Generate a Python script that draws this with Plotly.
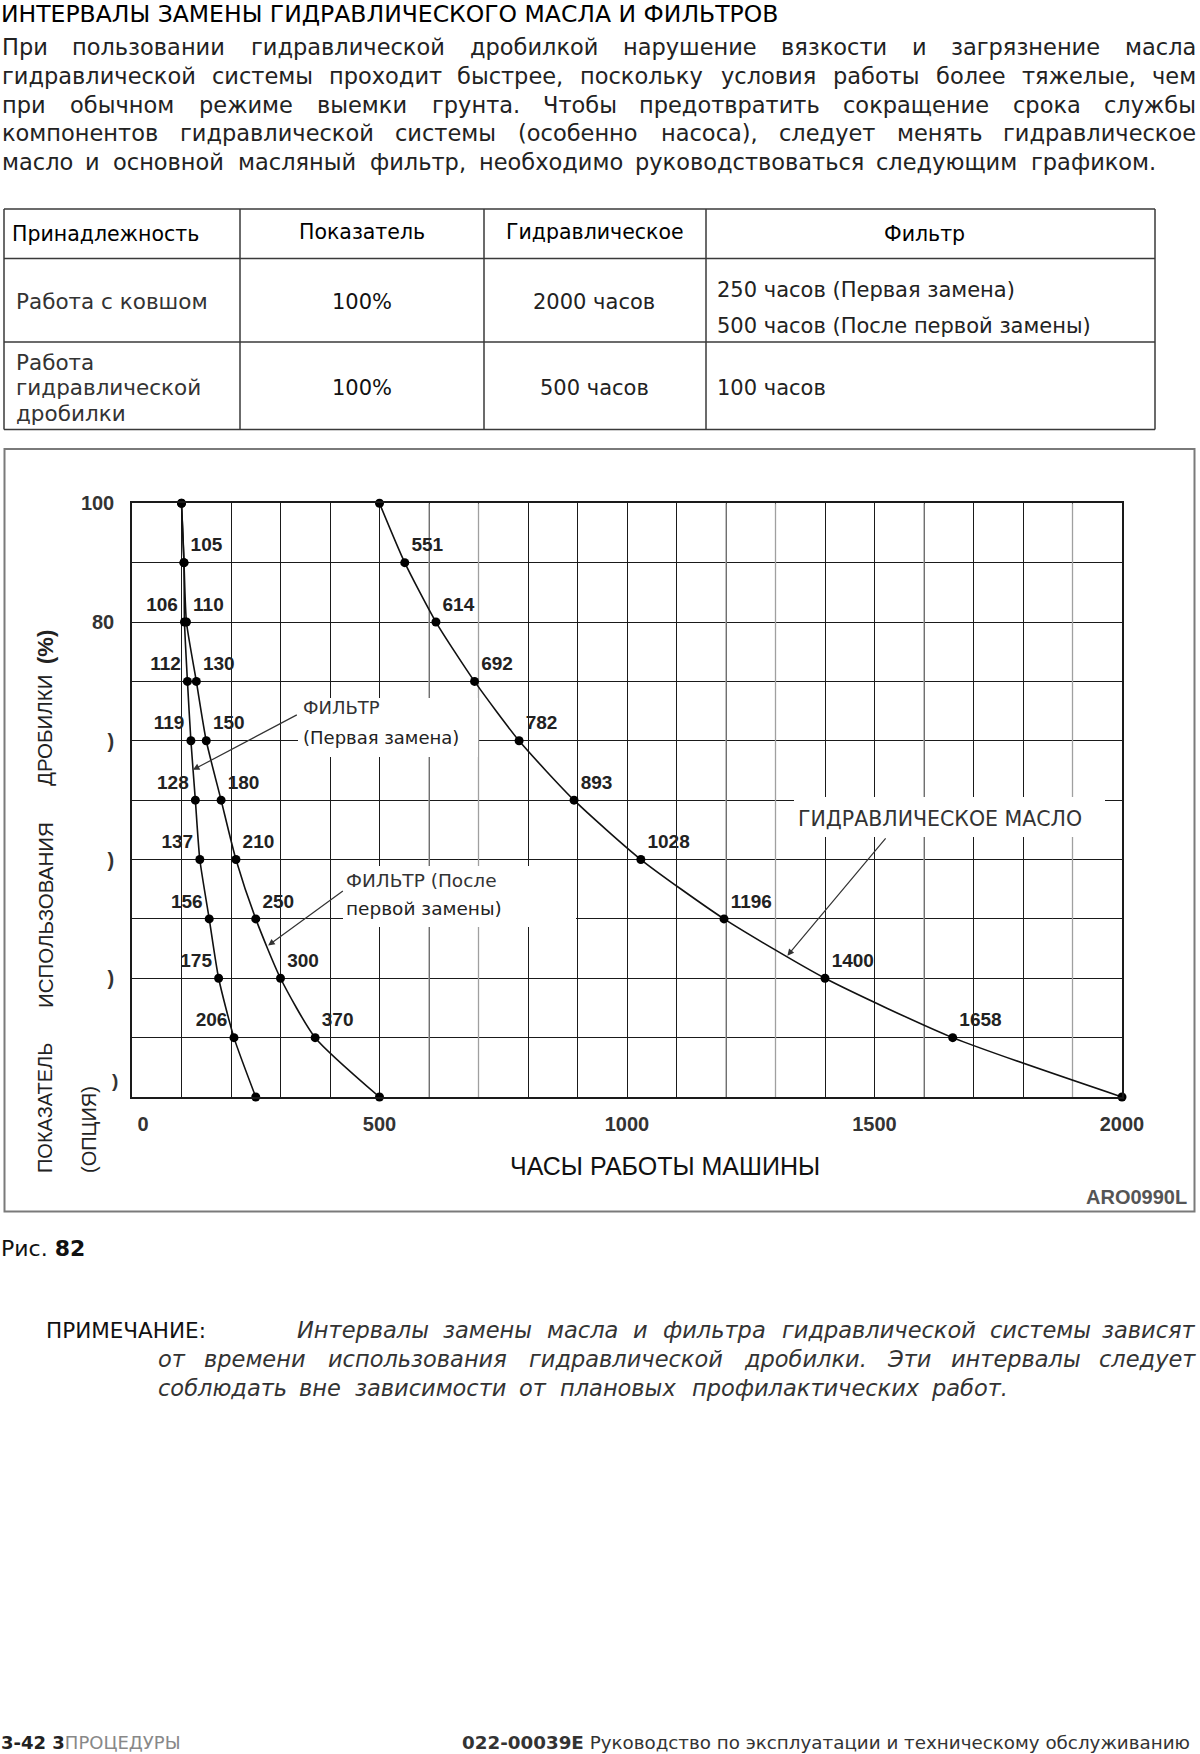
import plotly.graph_objects as go

W, H = 1200, 1754

# chart data: usage share of the breaker (%) vs machine hours
usage_pct = [100, 90, 80, 70, 60, 50, 40, 30, 20, 10, 0]
filter_first_hours = [100, 105, 106, 112, 119, 128, 137, 156, 175, 206, 250]
filter_after_hours = [100, 105, 110, 130, 150, 180, 210, 250, 300, 370, 500]
oil_hours = [500, 551, 614, 692, 782, 893, 1028, 1196, 1400, 1658, 2000]

filter_first_shown = [False, False, True, True, True, True, True, True, True, True, False]
filter_after_shown = [False, True, True, True, True, True, True, True, True, True, False]
oil_shown = [False, True, True, True, True, True, True, True, True, True, False]

x_ticks = [0, 500, 1000, 1500, 2000]
x_ticktext = ["\u2007\u20070", "500", "1000", "1500", "2000"]
y_ticks = [100, 80, 60, 40, 20]
y_ticktext = ["100", "80", ")", ")", ")"]
light_grid_hours = [600, 700, 1200, 1300, 1600, 1900]

title = "ИНТЕРВАЛЫ ЗАМЕНЫ ГИДРАВЛИЧЕСКОГО МАСЛА И ФИЛЬТРОВ"
paragraph = [
    "При пользовании гидравлической дробилкой нарушение вязкости и загрязнение масла",
    "гидравлической системы проходит быстрее, поскольку условия работы более тяжелые, чем",
    "при обычном режиме выемки грунта. Чтобы предотвратить сокращение срока службы",
    "компонентов гидравлической системы (особенно насоса), следует менять гидравлическое",
    "масло и основной масляный фильтр, необходимо руководствоваться следующим графиком.",
]
table_header = ["Принадлежность", "Показатель", "Гидравлическое", "Фильтр"]
row1 = ["Работа с ковшом", "100%", "2000 часов", ["250 часов (Первая замена)", "500 часов (После первой замены)"]]
row2 = [["Работа", "гидравлической", "дробилки"], "100%", "500 часов", "100 часов"]
note_lines = [
    "Интервалы замены масла и фильтра гидравлической системы зависят",
    "от времени использования гидравлической дробилки.  Эти интервалы следует",
    "соблюдать вне зависимости от плановых профилактических работ.",
]

BODY = "DejaVu Sans"
ARIAL = "Liberation Sans"
INK = "#1e1e1e"

# plot area in page pixels
PX_L, PX_R, PX_T, PX_B = 132, 1122, 503.3, 1097

# rough DejaVu Sans advance widths (em) for word placement
_EM = {}
for chars, em in [(" .,:;", 0.318), ("()", 0.39), ("0123456789", 0.636), ("%", 0.95), ("-", 0.361),
                  ("г", 0.50), ("тз", 0.53), ("сэ", 0.55), ("вкухьяч", 0.60), ("аеобр", 0.62),
                  ("дийлнпц", 0.66), ("м", 0.77), ("ыъ", 0.80), ("юж", 0.86), ("шщ", 0.90), ("ф", 0.97),
                  ("Г", 0.56), ("РL", 0.60), ("Т", 0.61), ("ЕE", 0.63), ("УЬ", 0.65), ("АБВХAR", 0.68),
                  ("ЗСЭЯКЧ", 0.70), ("ДИЙЛНП", 0.75), ("Ц", 0.77), ("ОO", 0.79), ("Ф", 0.82), ("М", 0.86),
                  ("Ы", 0.93), ("Ж", 1.0), ("ШЩЮ", 1.05)]:
    for c in chars:
        _EM[c] = em


def text_w(s, size):
    return sum(_EM.get(c, 0.62) for c in s) * size


def P(x, y):
    return x / W, 1 - y / H


def D(x, y):
    # page pixels -> data units of the chart
    return (x - PX_L) * 2000 / (PX_R - PX_L), (PX_B - y) * 100 / (PX_B - PX_T)


def txt(x, y, s, size, family=BODY, color=INK, xanchor="left", weight="normal", style="normal", angle=0):
    px, py = P(x, y)
    return dict(x=px, y=py, xref="paper", yref="paper", text=s, showarrow=False,
                xanchor=xanchor, yanchor="middle", textangle=angle, borderpad=0,
                font=dict(family=family, size=size, color=color, weight=weight, style=style))


def justified(line, x0, x1, y, size, **kw):
    words = line.split()
    widths = [text_w(w, size) for w in words]
    gap = (x1 - x0 - sum(widths)) / (len(words) - 1)
    out = []
    left = x0
    for i, (w, wd) in enumerate(zip(words, widths)):
        if i == 0:
            out.append(txt(x0, y, w, size, xanchor="left", **kw))
        elif i == len(words) - 1:
            out.append(txt(x1, y, w, size, xanchor="right", **kw))
        else:
            out.append(txt(left + wd / 2, y, w, size, xanchor="center", **kw))
        left += wd + gap
    return out


fig = go.Figure()

def labels(vals, shown):
    return [str(v) if s else "" for v, s in zip(vals, shown)]

lab_font = dict(family=ARIAL, size=19, color="#222", weight="bold")
for hours, shown, pos in [(filter_first_hours, filter_first_shown, "top left"),
                          (filter_after_hours, filter_after_shown, "top right"),
                          (oil_hours, oil_shown, "top right")]:
    fig.add_trace(go.Scatter(
        x=hours, y=usage_pct, mode="lines+markers+text",
        line=dict(color="#111", width=1.6, shape="spline", smoothing=0.6),
        marker=dict(size=9, color="#000"),
        text=labels(hours, shown), textposition=pos, textfont=lab_font,
        cliponaxis=False, showlegend=False, hoverinfo="skip"))

ann = []
shapes = []

# page header
ann.append(txt(0, 14, title, 23.5, color="#000"))
for i, line in enumerate(paragraph):
    y = 47 + 28.8 * i
    x1 = 1157 if i == len(paragraph) - 1 else 1197
    ann += justified(line, 1, x1, y, 22.5, color="#222")

# table
t_x = [4, 240, 484, 706, 1155]
t_y = [209, 258.5, 342, 429.5]
for y in t_y:
    x0, y0 = P(t_x[0], y)
    x1, _ = P(t_x[-1], y)
    shapes.append(dict(type="line", xref="paper", yref="paper", x0=x0, x1=x1, y0=y0, y1=y0,
                       line=dict(color="#3a3a3a", width=1.5)))
for x in t_x:
    x0, y0 = P(x, t_y[0])
    _, y1 = P(x, t_y[-1])
    shapes.append(dict(type="line", xref="paper", yref="paper", x0=x0, x1=x0, y0=y0, y1=y1,
                       line=dict(color="#3a3a3a", width=1.5)))

ann.append(txt(11, 234, table_header[0], 20.5, color="#000"))
ann.append(txt(362, 232, table_header[1], 20.5, color="#000", xanchor="center"))
ann.append(txt(595, 232, table_header[2], 20.5, color="#000", xanchor="center"))
ann.append(txt(924, 234, table_header[3], 20.5, color="#000", xanchor="center"))

ann.append(txt(15, 302, row1[0], 21.5, color="#333"))
ann.append(txt(362, 302, row1[1], 21, color="#111", xanchor="center"))
ann.append(txt(594, 302, row1[2], 21, color="#222", xanchor="center"))
ann.append(txt(716, 290, row1[3][0], 21, color="#222"))
ann.append(txt(716, 326, row1[3][1], 21, color="#222"))

for k, s in enumerate(row2[0]):
    ann.append(txt(15, 362 + 25.5 * k, s, 21.5, color="#333"))
ann.append(txt(362, 388, row2[1], 21, color="#111", xanchor="center"))
ann.append(txt(594, 388, row2[2], 21, color="#222", xanchor="center"))
ann.append(txt(716, 388, row2[3], 21, color="#222"))

# chart frame
fx0, fy0 = P(4.5, 449)
fx1, fy1 = P(1194.5, 1211.5)
shapes.append(dict(type="rect", xref="paper", yref="paper", x0=fx0, x1=fx1, y0=fy0, y1=fy1,
                   line=dict(color="#7a7a7a", width=2)))

# lighter scanned grid lines
for h in light_grid_hours:
    shapes.append(dict(type="line", xref="x", yref="y", x0=h, x1=h, y0=0, y1=100, layer="between",
                       line=dict(color="#a0a0a0", width=1.3)))

# white label boxes over the grid (above grid, below curves)
for (bx0, by0, bx1, by1) in [(298, 698, 478, 757), (343, 866, 576, 927), (794, 797, 1105, 837)]:
    a, b = D(bx0, by0)
    c, d = D(bx1, by1)
    shapes.append(dict(type="rect", xref="x", yref="y", x0=a, x1=c, y0=d, y1=b, layer="between",
                       fillcolor="white", line=dict(width=0)))

ann.append(txt(302, 707, "ФИЛЬТР", 18, color="#333"))
ann.append(txt(302, 737, "(Первая замена)", 18, color="#222"))
ann.append(txt(345, 880, "ФИЛЬТР (После", 18.5, color="#333"))
ann.append(txt(345, 909, "первой замены)", 18.5, color="#222"))
ann.append(txt(797, 819, "ГИДРАВЛИЧЕСКОЕ МАСЛО", 20.5, color="#333"))

# leader arrows: (tip hours, tip %) <- (tail hours, tail %)
for (tx, ty), (sx, sy) in [((123, 55.1), (336, 64.5)), ((275, 25.5), (429, 34.9)), ((1324, 23.8), (1525, 43.8))]:
    ann.append(dict(x=tx, y=ty, xref="x", yref="y", ax=sx, ay=sy, axref="x", ayref="y", text="",
                    showarrow=True, arrowhead=2, arrowsize=1.1, arrowwidth=1.2, arrowcolor="#333", standoff=0))

# axis titles and remnants
ann.append(txt(119, 1080, ")", 19, family=ARIAL, color="#333", xanchor="right", weight="bold"))
ann.append(txt(665, 1166, "ЧАСЫ РАБОТЫ МАШИНЫ", 25, family=ARIAL, color="#111", xanchor="center"))
for s, yc, wt, sz in [("ПОКАЗАТЕЛЬ", 1108, "normal", 20), ("ИСПОЛЬЗОВАНИЯ", 915, "normal", 20.5),
                      ("ДРОБИЛКИ", 731, "normal", 20.5), ("(%)", 647, "bold", 22)]:
    ann.append(txt(45, yc, s, sz, family=ARIAL, color="#222", xanchor="center", weight=wt, angle=-90))
ann.append(txt(89, 1130, "(ОПЦИЯ)", 20, family=ARIAL, color="#222", xanchor="center", angle=-90))
ann.append(txt(1188, 1197, "ARO0990L", 20, family=ARIAL, color="#555", xanchor="right", weight="bold"))

# caption, note, footer
ann.append(txt(0, 1248, "Рис. <b>82</b>", 22, color="#111"))
ann.append(txt(45, 1330, "ПРИМЕЧАНИЕ:", 21.5, color="#111"))
ann += justified(note_lines[0], 296, 1197, 1330, 22.5, color="#333", style="italic")
ann += justified(note_lines[1], 157, 1197, 1359, 22.5, color="#333", style="italic")
ann += justified(note_lines[2], 157, 1009, 1388, 22.5, color="#333", style="italic")

ann.append(txt(0, 1742, "<b>3-42 3</b><span style='color:#888'>ПРОЦЕДУРЫ</span>", 18, color="#222"))
ann.append(txt(1191, 1742, "<b>022-00039E</b> Руководство по эксплуатации и техническому обслуживанию",
               18.3, color="#333", xanchor="right"))

grid = dict(color="#1a1a1a", width=1.3)
fig.update_layout(
    width=W, height=H, autosize=False,
    margin=dict(l=0, r=0, t=0, b=0, pad=0, autoexpand=False),
    paper_bgcolor="white", plot_bgcolor="white",
    xaxis=dict(domain=[PX_L / W, PX_R / W], range=[0, 2000], tickmode="array", tickvals=x_ticks,
               ticktext=x_ticktext, ticks="", ticklabelstandoff=8, automargin=False,
               tickfont=dict(family=ARIAL, size=20, color="#333", weight="bold"),
               showgrid=True, gridcolor=grid["color"], gridwidth=grid["width"], zeroline=False,
               showline=True, mirror=True, linecolor="#1a1a1a", linewidth=1.5,
               minor=dict(tickmode="linear", tick0=0, dtick=100, showgrid=True,
                          gridcolor=grid["color"], gridwidth=grid["width"], ticks="")),
    yaxis=dict(domain=[1 - PX_B / H, 1 - PX_T / H], range=[0, 100], tickmode="array", tickvals=y_ticks,
               ticktext=y_ticktext, ticks="", ticklabelstandoff=12, automargin=False,
               tickfont=dict(family=ARIAL, size=20, color="#333", weight="bold"),
               showgrid=True, gridcolor=grid["color"], gridwidth=grid["width"], zeroline=False,
               showline=True, mirror=True, linecolor="#1a1a1a", linewidth=1.5,
               minor=dict(tickmode="linear", tick0=0, dtick=10, showgrid=True,
                          gridcolor=grid["color"], gridwidth=grid["width"], ticks="")),
    annotations=ann,
    shapes=shapes,
)

fig.write_html("out.html", config={"displayModeBar": False},
               post_script="document.body.style.margin = '0';")
